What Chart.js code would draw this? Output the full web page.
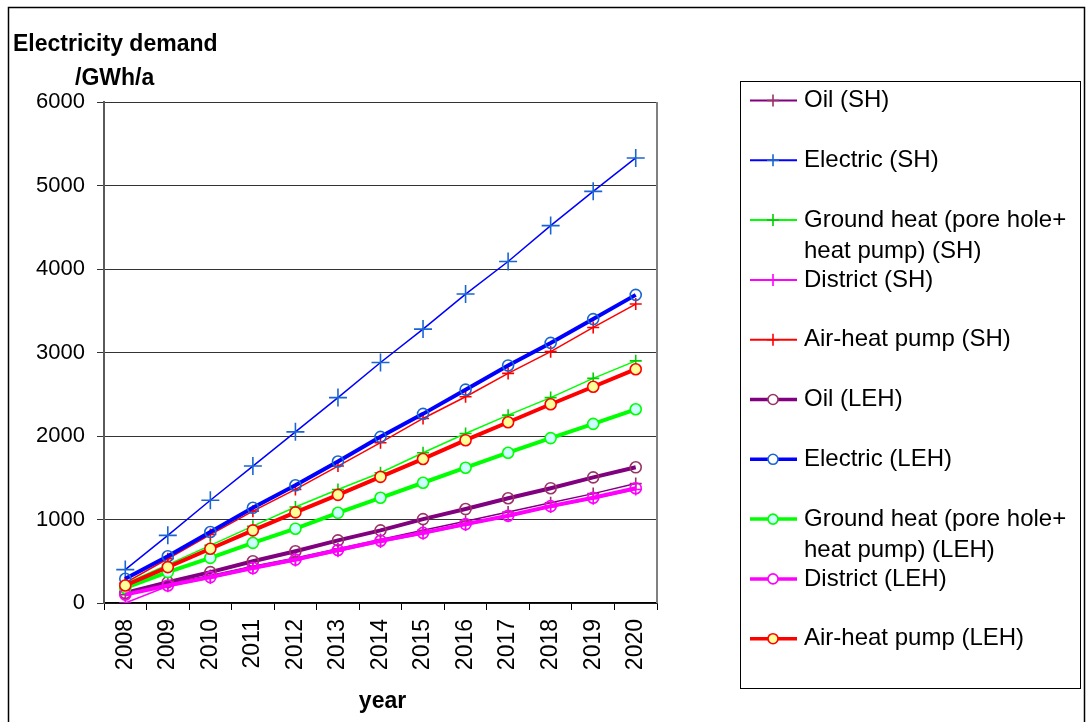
<!DOCTYPE html>
<html>
<head>
<meta charset="utf-8">
<script src="https://cdn.jsdelivr.net/npm/chart.js@4/dist/chart.umd.min.js"></script>
<style>
  html, body { margin: 0; padding: 0; background: #fff; }
  canvas { display: block; }
</style>
</head>
<body>
<canvas id="c" width="1091" height="722"></canvas>
<script>
// Years on the category axis
const years = ['2008','2009','2010','2011','2012','2013','2014','2015','2016','2017','2018','2019','2020'];
const yTicks = [0, 1000, 2000, 3000, 4000, 5000, 6000];

// Electricity demand, GWh/a — standard houses (SH)
const oilSH      = [100, 230, 330, 440, 540, 650, 760, 870, 980, 1090, 1200, 1310, 1430];
const electricSH = [400, 810, 1230, 1640, 2050, 2460, 2880, 3280, 3700, 4090, 4520, 4930, 5330];
const groundSH   = [230, 460, 690, 920, 1150, 1360, 1560, 1800, 2030, 2250, 2460, 2690, 2900];
const districtSH = [0, 200, 300, 410, 510, 620, 730, 830, 935, 1040, 1150, 1250, 1360];
const airSH      = [240, 530, 820, 1100, 1360, 1640, 1920, 2210, 2470, 2750, 3010, 3300, 3580];

// Electricity demand, GWh/a — low-energy houses (LEH)
const oilLEH      = [120, 250, 370, 500, 620, 750, 870, 1005, 1125, 1255, 1375, 1505, 1625];
const electricLEH = [290, 560, 850, 1140, 1410, 1695, 1990, 2265, 2555, 2845, 3115, 3400, 3690];
const groundLEH   = [180, 370, 540, 720, 890, 1080, 1260, 1440, 1620, 1800, 1975, 2145, 2320];
const districtLEH = [100, 210, 310, 420, 520, 635, 745, 840, 945, 1045, 1160, 1260, 1375];
const airLEH      = [210, 430, 650, 870, 1085, 1295, 1510, 1725, 1950, 2165, 2380, 2590, 2800];

// Legend text (one entry per series, split into lines)
const seriesLabels = [
  ['Oil (SH)'],
  ['Electric (SH)'],
  ['Ground heat (pore hole+', 'heat pump) (SH)'],
  ['District (SH)'],
  ['Air-heat pump (SH)'],
  ['Oil (LEH)'],
  ['Electric (LEH)'],
  ['Ground heat (pore hole+', 'heat pump) (LEH)'],
  ['District (LEH)'],
  ['Air-heat pump (LEH)']
];
const seriesData = [oilSH, electricSH, groundSH, districtSH, airSH,
                    oilLEH, electricLEH, groundLEH, districtLEH, airLEH];

const FONT = '"Liberation Sans", Arial, Helvetica, sans-serif';
Chart.defaults.font.family = FONT;
Chart.defaults.color = '#000';

// Line / marker appearance for each series
const looks = [
  { line: '#800080', mark: '#993366', fill: 'rgba(0,0,0,0)', shape: 'cross',  r: 6, lw: 1.5 },
  { line: '#0000FF', mark: '#1a66d0', fill: 'rgba(0,0,0,0)', shape: 'cross',  r: 9, lw: 1.5 },
  { line: '#00FF00', mark: '#00d000', fill: 'rgba(0,0,0,0)', shape: 'cross',  r: 6, lw: 1.5 },
  { line: '#FF00FF', mark: '#FF00FF', fill: 'rgba(0,0,0,0)', shape: 'cross',  r: 6, lw: 1.5 },
  { line: '#FF0000', mark: '#FF0000', fill: 'rgba(0,0,0,0)', shape: 'cross',  r: 6, lw: 1.5 },
  { line: '#800080', mark: '#993366', fill: 'rgba(0,0,0,0)', shape: 'circle', r: 5.5, lw: 4 },
  { line: '#0000FF', mark: '#1a66d0', fill: 'rgba(0,0,0,0)', shape: 'circle', r: 5.5, lw: 4 },
  { line: '#00FF00', mark: '#00FF00', fill: '#CCFFFF',       shape: 'circle', r: 5.5, lw: 4 },
  { line: '#FF00FF', mark: '#FF00FF', fill: 'rgba(0,0,0,0)', shape: 'circle', r: 5.5, lw: 4 },
  { line: '#FF0000', mark: '#FF0000', fill: '#FFFF99',       shape: 'circle', r: 5.5, lw: 4 }
];

const datasets = seriesData.map((d, i) => ({
  label: seriesLabels[i].join(' '),
  legendLines: seriesLabels[i],
  data: d,
  borderColor: looks[i].line,
  borderWidth: looks[i].lw,
  backgroundColor: looks[i].fill,
  pointStyle: looks[i].shape,
  pointRadius: looks[i].r,
  pointBorderColor: looks[i].mark,
  pointBackgroundColor: looks[i].fill,
  pointBorderWidth: 1.6,
  tension: 0,
  fill: false,
  order: seriesData.length - i,
  look: looks[i]
}));

// Frame, axis titles, plot border and legend box
const decorations = {
  id: 'decorations',
  afterDraw(chart) {
    const ctx = chart.ctx;
    const area = chart.chartArea;
    ctx.save();

    // outer frame
    ctx.strokeStyle = '#000';
    ctx.lineWidth = 1.5;
    ctx.strokeRect(8.5, 7.5, 1076, 720);

    // right edge of plot area
    ctx.strokeStyle = '#808080';
    ctx.lineWidth = 2;
    ctx.beginPath();
    ctx.moveTo(area.right, area.top);
    ctx.lineTo(area.right, area.bottom);
    ctx.stroke();

    // value axis title
    ctx.fillStyle = '#000';
    ctx.font = 'bold 23px ' + FONT;
    ctx.textAlign = 'left';
    ctx.textBaseline = 'alphabetic';
    ctx.fillText('Electricity demand', 13, 51);
    ctx.fillText('/GWh/a', 75, 85);

    // category axis title
    ctx.textAlign = 'center';
    ctx.textBaseline = 'middle';
    ctx.fillText('year', (area.left + area.right) / 2 + 2, 702);

    // legend box
    ctx.strokeStyle = '#000';
    ctx.lineWidth = 1;
    ctx.strokeRect(740.5, 81.5, 340, 607);

    ctx.font = '24px ' + FONT;
    ctx.textAlign = 'left';
    chart.data.datasets.forEach((ds, i) => {
      const y = 100.5 + 59.8 * i;
      const lk = ds.look;
      // line sample
      ctx.strokeStyle = lk.line;
      ctx.lineWidth = lk.lw >= 3 ? 3.5 : 2;
      ctx.beginPath();
      ctx.moveTo(750, y);
      ctx.lineTo(797, y);
      ctx.stroke();
      // marker sample
      const mx = 773;
      ctx.strokeStyle = lk.mark;
      ctx.lineWidth = 1.6;
      if (lk.shape === 'cross') {
        const r = 6;
        ctx.beginPath();
        ctx.moveTo(mx - r, y); ctx.lineTo(mx + r, y);
        ctx.moveTo(mx, y - r); ctx.lineTo(mx, y + r);
        ctx.stroke();
      } else {
        ctx.beginPath();
        ctx.arc(mx, y, 5, 0, Math.PI * 2);
        ctx.fillStyle = lk.fill === 'rgba(0,0,0,0)' ? '#fff' : lk.fill;
        ctx.fill();
        ctx.stroke();
      }
      // label text
      ctx.fillStyle = '#000';
      ctx.textBaseline = 'middle';
      ds.legendLines.forEach((t, k) => ctx.fillText(t, 804, y + k * 31));
    });
    ctx.restore();
  }
};

new Chart(document.getElementById('c'), {
  type: 'line',
  data: { labels: years, datasets },
  options: {
    responsive: false,
    animation: false,
    devicePixelRatio: 1,
    layout: { padding: { left: 0, top: 102, right: 434, bottom: 0 } },
    plugins: { legend: { display: false }, tooltip: { enabled: false }, title: { display: false } },
    scales: {
      x: {
        type: 'category',
        offset: true,
        grid: {
          offset: true,
          drawOnChartArea: false,
          drawTicks: true,
          tickLength: 7,
          color: '#000',
          lineWidth: 1
        },
        border: { display: true, color: '#000', width: 1.5 },
        ticks: {
          font: { size: 23 },
          color: '#000',
          minRotation: 90,
          maxRotation: 90,
          padding: 9,
          autoSkip: false
        },
        afterFit(scale) { scale.height = 119; }
      },
      y: {
        min: 0,
        max: 6000,
        afterBuildTicks(scale) { scale.ticks = yTicks.map(v => ({ value: v })); },
        grid: {
          color: '#333',
          lineWidth: 1,
          tickLength: 7,
          drawTicks: true
        },
        border: { display: true, color: '#5a5a5a', width: 2 },
        ticks: {
          font: { size: 22 },
          color: '#000',
          padding: 12,
          callback: (v) => String(v)
        },
        afterFit(scale) { scale.width = 104; }
      }
    }
  },
  plugins: [decorations]
});
</script>
</body>
</html>
